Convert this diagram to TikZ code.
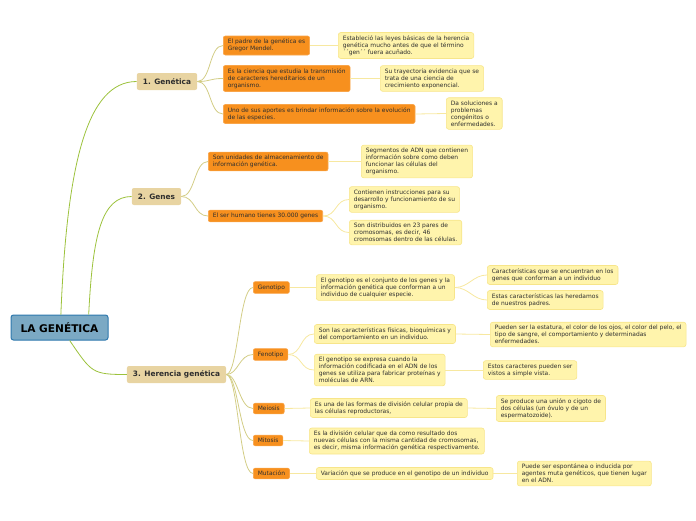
\documentclass[tikz,border=0pt]{standalone}
\usepackage{fontspec}
\setmainfont{DejaVu Sans}
\definecolor{raizfondo}{HTML}{7BA9C4}
\definecolor{raizborde}{HTML}{2E78AD}
\definecolor{temafondo}{HTML}{E8D4A2}
\definecolor{naranja}{HTML}{F7901E}
\definecolor{naranjaborde}{HTML}{F9A54A}
\definecolor{amarillo}{HTML}{FFF4AC}
\definecolor{amarilloborde}{HTML}{F7E58A}
\definecolor{lineaverde}{HTML}{9CC23C}
\definecolor{lineaoliva}{HTML}{D3CD86}
\definecolor{lineaclara}{HTML}{F7E8A0}
\definecolor{texto}{HTML}{2E2E2E}

\begin{document}
\begin{tikzpicture}[x=1pt,y=-1pt]
	\tikzset{raiz/.style={draw=raizborde, fill=raizfondo, line width=1pt, rounded corners=2.5pt, minimum width=97pt, minimum height=25pt, font=\fontsize{10.6}{12}\selectfont\bfseries}}
	\tikzset{tema/.style={fill=temafondo, rounded corners=2pt, minimum height=17pt, inner xsep=6pt, text=texto, font=\fontsize{7.4}{8}\selectfont\bfseries}}
	\tikzset{sub/.style={draw=naranjaborde, fill=naranja, line width=0.6pt, rounded corners=2pt, align=left, anchor=west, inner xsep=4.5pt, inner ysep=3pt, text=texto, font=\fontsize{5.95}{7}\selectfont}}
	\tikzset{nota/.style={draw=amarilloborde, fill=amarillo, line width=0.6pt, rounded corners=2.5pt, align=left, anchor=west, inner xsep=4.5pt, inner ysep=3pt, text=texto, font=\fontsize{5.95}{7}\selectfont}}
	\tikzset{rama0/.style={draw=lineaverde, line width=0.8pt}}
	\tikzset{rama1/.style={draw=lineaoliva, line width=0.8pt}}
	\tikzset{rama2/.style={draw=lineaclara, line width=0.8pt}}
	\useasboundingbox (0,0) rectangle (696,520);

	\node[raiz] (raiz) at (59.5,327.5) {LA GENÉTICA};

	% 1. Genetica
	\node[tema] (g1) at (167,81.5) {1. Genética};
	\node[sub] (padre) at (223,45.5) {El padre de la genética es\\Gregor Mendel.};
	\node[sub] (ciencia) at (223,78.5) {Es la ciencia que estudia la transmisión\\de caracteres hereditarios de un\\organismo.};
	\node[sub] (aportes) at (223,114) {Uno de sus aportes es brindar información sobre la evolución\\de las especies.};
	\node[nota] (leyes) at (338,45.5) {Estableció las leyes básicas de la herencia\\genética mucho antes de que el término\\´´gen´´ fuera acuñado.};
	\node[nota] (trayectoria) at (380,78.5) {Su trayectoria evidencia que se\\trata de una ciencia de\\crecimiento exponencial.};
	\node[nota] (soluciones) at (446,113.5) {Da soluciones a\\problemas\\congénitos o\\enfermedades.};

	% 2. Genes
	\node[tema] (g2) at (156.5,196.5) {2. Genes};
	\node[sub] (unidades) at (208,161.5) {Son unidades de almacenamiento de\\información genética.};
	\node[sub] (humano) at (208,216) {El ser humano tienes 30.000 genes};
	\node[nota] (segmentos) at (361,161.5) {Segmentos de ADN que contienen\\información sobre como deben\\funcionar las células del\\organismo.};
	\node[nota] (instrucciones) at (349,199.5) {Contienen instrucciones para su\\desarrollo y funcionamiento de su\\organismo.};
	\node[nota] (pares) at (349,232.5) {Son distribuidos en 23 pares de\\cromosomas, es decir, 46\\cromosomas dentro de las células.};

	% 3. Herencia genetica
	\node[tema] (g3) at (176.5,374.5) {3. Herencia genética};
	\node[sub] (genotipo) at (253,287.5) {Genotipo};
	\node[sub] (fenotipo) at (253,354.5) {Fenotipo};
	\node[sub] (meiosis) at (253,408.5) {Meiosis};
	\node[sub] (mitosis) at (253,440.5) {Mitosis};
	\node[sub] (mutacion) at (253,473.5) {Mutación};

	\node[nota] (conjunto) at (316,287.5) {El genotipo es el conjunto de los genes y la\\información genética que conforman a un\\individuo de cualquier especie.};
	\node[nota] (encuentran) at (487,275) {Características que se encuentran en los\\genes que conforman a un individuo};
	\node[nota] (heredamos) at (487,300) {Estas características las heredamos\\de nuestros padres.};

	\node[nota] (fisicas) at (314,334) {Son las características físicas, bioquímicas y\\del comportamiento en un individuo.};
	\node[nota] (estatura) at (490,334.5) {Pueden ser la estatura, el color de los ojos, el color del pelo, el\\tipo de sangre, el comportamiento y determinadas\\enfermedades.};
	\node[nota] (expresa) at (314,370) {El genotipo se expresa cuando la\\información codificada en el ADN de los\\genes se utiliza para fabricar proteínas y\\moléculas de ARN.};
	\node[nota] (vista) at (483,370) {Estos caracteres pueden ser\\vistos a simple vista.};

	\node[nota] (formas) at (310,408) {Es una de las formas de división celular propia de\\las células reproductoras,};
	\node[nota] (cigoto) at (496,408.5) {Se produce una unión o cigoto de\\dos células (un óvulo y de un\\espermatozoide).};
	\node[nota] (division) at (309,441) {Es la división celular que da como resultado dos\\nuevas células con la misma cantidad de cromosomas,\\es decir, misma información genética respectivamente.};
	\node[nota] (variacion) at (316,473.5) {Variación que se produce en el genotipo de un individuo};
	\node[nota] (espontanea) at (517,473.5) {Puede ser espontánea o inducida por\\agentes muta genéticos, que tienen lugar\\en el ADN.};

	% ramas
	\draw[rama0] (raiz.84) .. controls +(6,-150) and +(-50,0) .. (g1.west);
	\draw[rama0] (raiz.24) .. controls +(4,-80) and +(-30,0) .. (g2.west);
	\draw[rama0] (raiz.-52) .. controls +(22,32) and +(-35,0) .. (g3.west);

	\draw[rama1] (g1.east) .. controls +(14,0) and +(-14,0) .. (padre.west);
	\draw[rama1] (g1.east) .. controls +(14,0) and +(-14,0) .. (ciencia.west);
	\draw[rama1] (g1.east) .. controls +(14,0) and +(-14,0) .. (aportes.west);
	\draw[rama1] (g2.east) .. controls +(14,0) and +(-14,0) .. (unidades.west);
	\draw[rama1] (g2.east) .. controls +(14,0) and +(-14,0) .. (humano.west);
	\draw[rama1] (g3.east) .. controls +(12,0) and +(-14,0) .. (genotipo.west);
	\draw[rama1] (g3.east) .. controls +(12,0) and +(-14,0) .. (fenotipo.west);
	\draw[rama1] (g3.east) .. controls +(12,0) and +(-14,0) .. (meiosis.west);
	\draw[rama1] (g3.east) .. controls +(12,0) and +(-14,0) .. (mitosis.west);
	\draw[rama1] (g3.east) .. controls +(12,0) and +(-14,0) .. (mutacion.west);

	\draw[rama2] (padre.east) -- (leyes.west);
	\draw[rama2] (ciencia.east) -- (trayectoria.west);
	\draw[rama2] (aportes.east) -- (soluciones.west);
	\draw[rama2] (unidades.east) -- (segmentos.west);
	\draw[rama2] (humano.east) .. controls +(14,0) and +(-14,0) .. (instrucciones.west);
	\draw[rama2] (humano.east) .. controls +(14,0) and +(-14,0) .. (pares.west);
	\draw[rama2] (genotipo.east) -- (conjunto.west);
	\draw[rama2] (conjunto.east) .. controls +(14,0) and +(-14,0) .. (encuentran.west);
	\draw[rama2] (conjunto.east) .. controls +(14,0) and +(-14,0) .. (heredamos.west);
	\draw[rama2] (fenotipo.east) .. controls +(14,0) and +(-14,0) .. (fisicas.west);
	\draw[rama2] (fenotipo.east) .. controls +(14,0) and +(-14,0) .. (expresa.west);
	\draw[rama2] (fisicas.east) -- (estatura.west);
	\draw[rama2] (expresa.east) -- (vista.west);
	\draw[rama2] (meiosis.east) -- (formas.west);
	\draw[rama2] (formas.east) -- (cigoto.west);
	\draw[rama2] (mitosis.east) -- (division.west);
	\draw[rama2] (mutacion.east) -- (variacion.west);
	\draw[rama2] (variacion.east) -- (espontanea.west);
\end{tikzpicture}
\end{document}
